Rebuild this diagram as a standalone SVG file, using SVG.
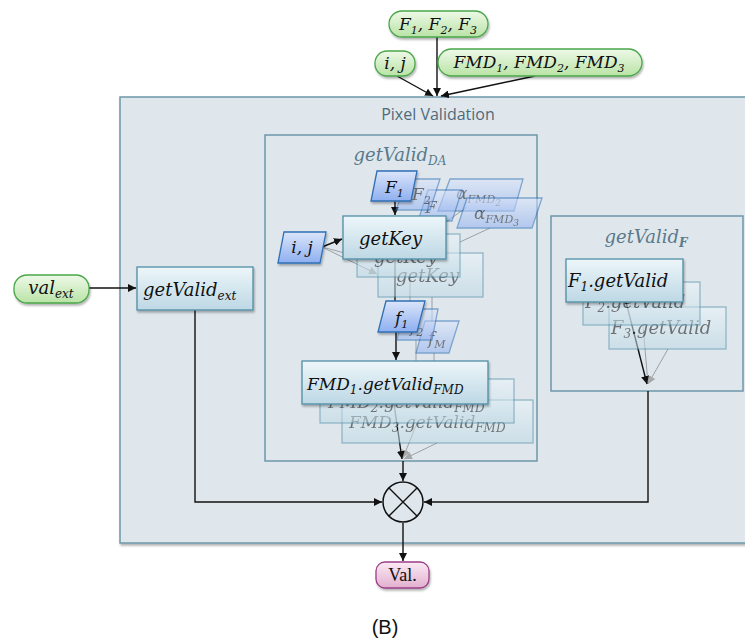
<svg xmlns="http://www.w3.org/2000/svg" width="745" height="640" viewBox="0 0 745 640">
<style>
.math{font-family:"DejaVu Serif","Liberation Serif",serif;font-style:italic;fill:#111}
.cont{fill:#dfe7ed;stroke:#6e97a9;stroke-width:1.5}
.box{fill:url(#boxG);stroke:#4f8ea6;stroke-width:1.3}
.para{fill:url(#paraG);stroke:#2f6fb5;stroke-width:1.3}
.pill{fill:url(#pillG);stroke:#4aa64a;stroke-width:1.3}
.fade{opacity:0.55}
.ttl{font-family:"DejaVu Serif",serif;font-style:italic;fill:#5a7a8b}
.ln{stroke:#111;stroke-width:1.4;fill:none}
.lnf{stroke:#666;stroke-width:1;fill:none}
</style>
<defs>
<linearGradient id="boxG" x1="0" y1="0" x2="0" y2="1"><stop offset="0" stop-color="#edf6fa"/><stop offset="1" stop-color="#bdd8e4"/></linearGradient>
<linearGradient id="paraG" x1="0" y1="0" x2="0" y2="1"><stop offset="0" stop-color="#dbe5fa"/><stop offset="1" stop-color="#8eaff0"/></linearGradient>
<linearGradient id="pillG" x1="0" y1="0" x2="0" y2="1"><stop offset="0" stop-color="#eef9e8"/><stop offset="1" stop-color="#b9e3a6"/></linearGradient>
<linearGradient id="valG" x1="0" y1="0" x2="0" y2="1"><stop offset="0" stop-color="#fbeaf4"/><stop offset="1" stop-color="#e2b0cf"/></linearGradient>
<filter id="sh" x="-10%" y="-10%" width="130%" height="140%"><feDropShadow dx="1" dy="2" stdDeviation="1.2" flood-color="#000" flood-opacity="0.3"/></filter>
<marker id="ar" viewBox="0 0 10 10" refX="10" refY="5" markerWidth="8" markerHeight="8" markerUnits="userSpaceOnUse" orient="auto"><path d="M0,0 L10,5 L0,10 Z" fill="#111"/></marker>
<marker id="arf" viewBox="0 0 10 10" refX="10" refY="5" markerWidth="8" markerHeight="8" markerUnits="userSpaceOnUse" orient="auto"><path d="M0,0 L10,5 L0,10 Z" fill="#777"/></marker>
</defs>
<rect width="745" height="640" fill="#fff"/>

<g id="pixel-validation">
<rect class="cont" x="120" y="97" width="640" height="446" filter="url(#sh)"/>
<text x="438" y="120" font-family="Open Sans, sans-serif" font-size="16" fill="#4f6b7b" text-anchor="middle">Pixel Validation</text>
</g>

<g id="getValid-DA">
<rect class="cont" x="265" y="135" width="272" height="326"/>
<text class="ttl" x="400" y="161" font-size="18" text-anchor="middle">getValid<tspan dy="4" font-size="12">DA</tspan></text>
</g>

<g id="getValid-F">
<rect class="cont" x="551" y="216" width="192" height="175"/>
<text class="ttl" x="646" y="243" font-size="18" text-anchor="middle">getValid<tspan dy="4" font-size="12" font-weight="bold">F</tspan></text>
</g>

<g id="connectors">
<path class="ln" d="M437,37 V96" marker-end="url(#ar)"/>
<path class="ln" d="M397,76 L433,96" marker-end="url(#ar)"/>
<path class="ln" d="M535,76 L441,96" marker-end="url(#ar)"/>
<path class="ln" d="M89,288 H136" marker-end="url(#ar)"/>
<path class="ln" d="M195,310 V502 H382" marker-end="url(#ar)"/>
<path class="ln" d="M648,391 V502 H424" marker-end="url(#ar)"/>
<path class="ln" d="M403,461 V481" marker-end="url(#ar)"/>
<path class="ln" d="M403,523 V561" marker-end="url(#ar)"/>
<g class="fade">
<path class="lnf" d="M322,247 L356,256" marker-end="url(#arf)"/>
<path class="lnf" d="M322,247 L377,274" marker-end="url(#arf)"/>
<path class="lnf" d="M467,207 L446,222"/>
<path class="lnf" d="M490,228 L460,242"/>
<path class="lnf" d="M410,277 V312"/>
<path class="lnf" d="M432,297 V322"/>
<path class="lnf" d="M416,340 V379"/>
<path class="lnf" d="M434,353 V400"/>
<path class="lnf" d="M417,423 L403,458" marker-end="url(#arf)"/>
<path class="lnf" d="M437,443 L404,459" marker-end="url(#arf)"/>
<path class="lnf" d="M643,325 L648,384" marker-end="url(#arf)"/>
<path class="lnf" d="M668,349 L648,384" marker-end="url(#arf)"/>
</g>
<path class="ln" d="M322,247 L342,239" marker-end="url(#ar)"/>
<path class="ln" d="M395,201 V215" marker-end="url(#ar)"/>
<path class="ln" d="M395,259 V301"/>
<path class="ln" d="M396,332 V360" marker-end="url(#ar)"/>
<path class="ln" d="M394,404 L402,459" marker-end="url(#ar)"/>
<path class="ln" d="M626,302 L647,384" marker-end="url(#ar)"/>
</g>

<g id="input-F">
<rect class="pill" x="389" y="11" width="99" height="26" rx="13" filter="url(#sh)"/>
<text class="math" x="438" y="30" font-size="17" text-anchor="middle">F<tspan dy="4" font-size="11">1</tspan><tspan dy="-4">, F</tspan><tspan dy="4" font-size="11">2</tspan><tspan dy="-4">, F</tspan><tspan dy="4" font-size="11">3</tspan></text>
</g>
<g id="input-ij">
<rect class="pill" x="375" y="51" width="40" height="25" rx="12" filter="url(#sh)"/>
<text class="math" x="395" y="69" font-size="17" text-anchor="middle">i, j</text>
</g>
<g id="input-FMD">
<rect class="pill" x="438" y="49" width="204" height="27" rx="13.5" filter="url(#sh)"/>
<text class="math" x="539" y="68" font-size="17" text-anchor="middle">FMD<tspan dy="4" font-size="11">1</tspan><tspan dy="-4">, FMD</tspan><tspan dy="4" font-size="11">2</tspan><tspan dy="-4">, FMD</tspan><tspan dy="4" font-size="11">3</tspan></text>
</g>
<g id="input-valext">
<rect class="pill" x="14" y="275" width="75" height="28" rx="13" filter="url(#sh)"/>
<text class="math" x="51" y="294" font-size="18" text-anchor="middle">val<tspan dy="4" font-size="12">ext</tspan></text>
</g>

<g id="getValid-ext">
<rect class="box" x="137" y="267" width="116" height="43" filter="url(#sh)"/>
<text class="math" x="143" y="296" font-size="18">getValid<tspan dy="4" font-size="12">ext</tspan></text>
</g>

<g id="alpha-FMD2" class="fade">
<path class="para" d="M450,179 H523 L514,211 H438 Z"/>
<text class="math" x="456" y="199" font-size="17" fill="#333">α<tspan dy="4" font-size="11">FMD</tspan><tspan dy="3" font-size="9">2</tspan></text>
</g>
<g id="alpha-FMD3" class="fade">
<path class="para" d="M467,198 H542 L532,228 H457 Z"/>
<text class="math" x="474" y="219" font-size="17" fill="#333">α<tspan dy="4" font-size="11">FMD</tspan><tspan dy="3" font-size="9">3</tspan></text>
</g>
<g id="F3-input" class="fade">
<path class="para" d="M428,190 H462 L452,221 H418 Z"/>
<text class="math" x="425" y="213" font-size="17">F</text>
</g>
<g id="F2-input" class="fade">
<path class="para" d="M407,179 H440 L430,210 H396 Z"/>
<text class="math" x="412" y="200" font-size="17">F<tspan dy="4" font-size="11">2</tspan></text>
</g>
<g id="F1-input">
<path class="para" d="M377,171 H417 L411,201 H371 Z" filter="url(#sh)"/>
<text class="math" x="385" y="193" font-size="17">F<tspan dy="4" font-size="11">1</tspan></text>
</g>

<g id="ij-input">
<path class="para" d="M284,232 H326 L320,263 H278 Z" filter="url(#sh)"/>
<text class="math" x="302" y="253" font-size="17" text-anchor="middle">i, j</text>
</g>

<g id="getKey-3" class="fade">
<rect class="box" x="378" y="253" width="105" height="44"/>
<text class="math" x="396" y="282" font-size="18" fill="#555">getKey</text>
</g>
<g id="getKey-2" class="fade">
<rect class="box" x="357" y="234" width="103" height="43"/>
<text class="math" x="374" y="263" font-size="18" fill="#555">getKey</text>
</g>
<g id="getKey-1">
<rect class="box" x="343" y="216" width="103" height="43" filter="url(#sh)"/>
<text class="math" x="359" y="245" font-size="18">getKey</text>
</g>

<g id="fM-input" class="fade">
<path class="para" d="M425,321 H459 L449,353 H416 Z"/>
<text class="math" x="428" y="344" font-size="17">f<tspan dy="4" font-size="11">M</tspan></text>
</g>
<g id="f2-input" class="fade">
<path class="para" d="M404,309 H438 L432,340 H397 Z"/>
<text class="math" x="410" y="332" font-size="17">f<tspan dy="4" font-size="11">2</tspan></text>
</g>
<g id="f1-input">
<path class="para" d="M386,301 H425 L417,332 H378 Z" filter="url(#sh)"/>
<text class="math" x="395" y="324" font-size="17">f<tspan dy="4" font-size="11">1</tspan></text>
</g>

<g id="FMD3-getValid" class="fade">
<rect class="box" x="342" y="400" width="191" height="43"/>
<text class="math" x="349" y="428" font-size="17" fill="#555">FMD<tspan dy="4" font-size="12">3</tspan><tspan dy="-4">.getValid</tspan><tspan dy="4" font-size="12">FMD</tspan></text>
</g>
<g id="FMD2-getValid" class="fade">
<rect class="box" x="320" y="379" width="194" height="44"/>
<text class="math" x="328" y="408" font-size="17" fill="#555">FMD<tspan dy="4" font-size="12">2</tspan><tspan dy="-4">.getValid</tspan><tspan dy="4" font-size="12">FMD</tspan></text>
</g>
<g id="FMD1-getValid">
<rect class="box" x="302" y="361" width="186" height="43" filter="url(#sh)"/>
<text class="math" x="307" y="390" font-size="17">FMD<tspan dy="4" font-size="12">1</tspan><tspan dy="-4">.getValid</tspan><tspan dy="4" font-size="12">FMD</tspan></text>
</g>

<g id="F3-getValid" class="fade">
<rect class="box" x="609" y="307" width="117" height="42"/>
<text class="math" x="611" y="334" font-size="18" fill="#555">F<tspan dy="4" font-size="12">3</tspan><tspan dy="-4">.getValid</tspan></text>
</g>
<g id="F2-getValid" class="fade">
<rect class="box" x="583" y="282" width="117" height="43"/>
<text class="math" x="585" y="308" font-size="18" fill="#555">F<tspan dy="4" font-size="12">2</tspan><tspan dy="-4">.getValid</tspan></text>
</g>
<g id="F1-getValid">
<rect class="box" x="566" y="259" width="117" height="43" filter="url(#sh)"/>
<text class="math" x="568" y="287" font-size="18">F<tspan dy="4" font-size="12">1</tspan><tspan dy="-4">.getValid</tspan></text>
</g>

<g id="combine">
<circle cx="403" cy="502" r="20" fill="none" stroke="#111" stroke-width="1.5"/>
<path d="M389,488 L417,516 M417,488 L389,516" stroke="#111" stroke-width="1.4"/>
</g>

<g id="output-val">
<rect x="376" y="562" width="53" height="26" rx="9" fill="url(#valG)" stroke="#9a3f86" stroke-width="1.3" filter="url(#sh)"/>
<text x="402.5" y="581" font-family="Liberation Serif, serif" font-size="18" text-anchor="middle" fill="#111">Val.</text>
</g>

<text x="385" y="634" font-family="Liberation Sans, Arial, sans-serif" font-size="20" text-anchor="middle" fill="#111">(B)</text>
</svg>
